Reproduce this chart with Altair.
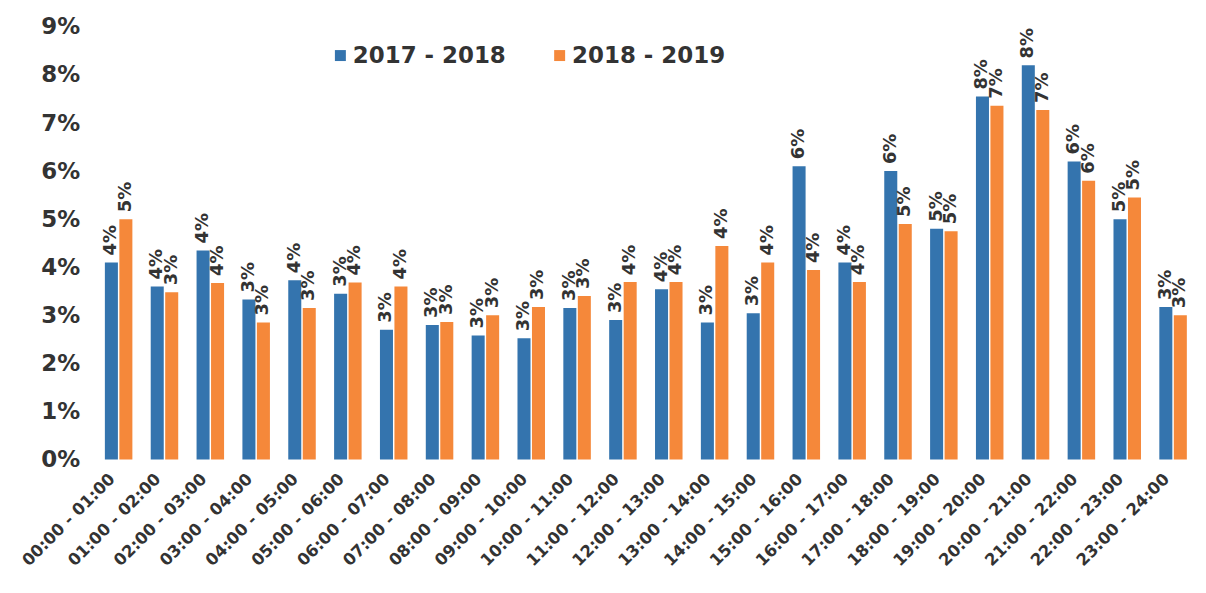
import altair as alt
import pandas as pd

hours = [
    "00:00 - 01:00", "01:00 - 02:00", "02:00 - 03:00", "03:00 - 04:00",
    "04:00 - 05:00", "05:00 - 06:00", "06:00 - 07:00", "07:00 - 08:00",
    "08:00 - 09:00", "09:00 - 10:00", "10:00 - 11:00", "11:00 - 12:00",
    "12:00 - 13:00", "13:00 - 14:00", "14:00 - 15:00", "15:00 - 16:00",
    "16:00 - 17:00", "17:00 - 18:00", "18:00 - 19:00", "19:00 - 20:00",
    "20:00 - 21:00", "21:00 - 22:00", "22:00 - 23:00", "23:00 - 24:00",
]
series = ["2017 - 2018", "2018 - 2019"]
v_2017_2018 = [4.1, 3.6, 4.35, 3.33, 3.73, 3.45, 2.7, 2.8, 2.58, 2.52, 3.15, 2.9,
               3.54, 2.85, 3.04, 6.1, 4.1, 6.0, 4.8, 7.55, 8.2, 6.2, 5.0, 3.17]
v_2018_2019 = [5.0, 3.48, 3.67, 2.85, 3.15, 3.68, 3.6, 2.86, 3.0, 3.17, 3.4, 3.69,
               3.69, 4.44, 4.1, 3.94, 3.69, 4.9, 4.75, 7.36, 7.27, 5.8, 5.45, 3.0]
colors = ["#3474AE", "#F5883A"]

rows = []
for i, h in enumerate(hours):
    rows.append({"hour": h, "series": series[0], "value": v_2017_2018[i]})
    rows.append({"hour": h, "series": series[1], "value": v_2018_2019[i]})
df = pd.DataFrame(rows)

FONT = "DejaVu Sans"
TXT = "#333333"

x = alt.X(
    "hour:N", sort=hours, title=None,
    scale=alt.Scale(paddingInner=0.4, paddingOuter=0.2),
    axis=alt.Axis(labelAngle=-45, labelFont=FONT, labelFontSize=16.5,
                  labelFontWeight="bold", labelColor=TXT, ticks=False,
                  domain=False, labelPadding=11, labelLimit=300,
                  labelOffset=-12),
)
xo = alt.XOffset("series:N", sort=series,
                 scale=alt.Scale(paddingInner=0.1, paddingOuter=0))
y = alt.Y(
    "value:Q", title=None,
    scale=alt.Scale(domain=[0, 9], nice=False),
    axis=alt.Axis(values=list(range(10)), labelExpr="datum.value + '%'",
                  labelFont=FONT, labelFontSize=23, labelFontWeight="bold",
                  labelColor=TXT, grid=False, ticks=False, domain=False,
                  labelPadding=16),
)
color = alt.Color(
    "series:N", sort=series,
    scale=alt.Scale(domain=series, range=colors),
    legend=alt.Legend(orient="none", legendX=234, legendY=17,
                      direction="horizontal", title=None, symbolType="square",
                      symbolSize=121, symbolStrokeWidth=0, labelFont=FONT,
                      labelFontSize=23, labelFontWeight="bold", labelColor=TXT,
                      columnPadding=42, labelOffset=1),
)

bars = alt.Chart(df).mark_bar().encode(x=x, xOffset=xo, y=y, color=color)
text = alt.Chart(df).transform_calculate(
    label="round(datum.value) + '%'"
).mark_text(
    angle=270, align="left", baseline="middle", dx=7, font=FONT,
    fontSize=18, fontWeight="bold", color=TXT,
).encode(x=x, xOffset=xo, y=alt.Y("value:Q"), text="label:N")

chart = (bars + text).properties(
    width=1104, height=434,
    padding={"left": 88, "top": 18, "right": 2, "bottom": 125},
    autosize=alt.AutoSizeParams(type="none"),
    background="white",
).configure_view(strokeWidth=0)

chart.save("out.html", embed_options={"renderer": "svg", "actions": False})
